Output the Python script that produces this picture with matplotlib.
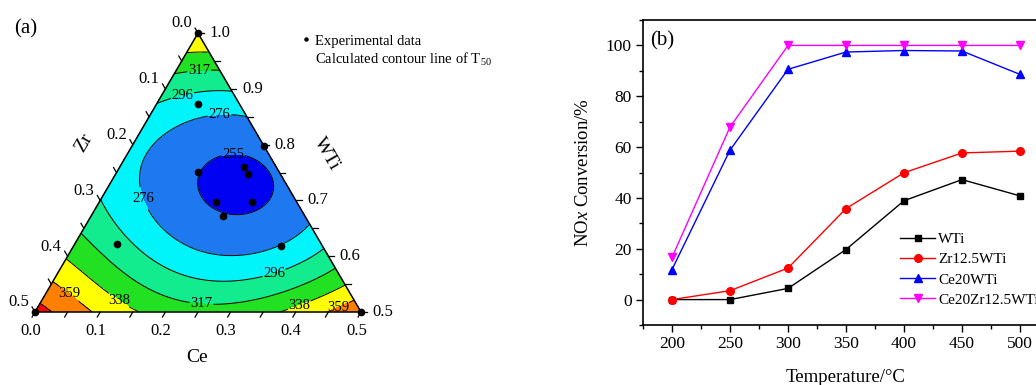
import numpy as np
import matplotlib.pyplot as plt
import matplotlib.tri as mtri
from matplotlib.lines import Line2D

plt.rcParams['font.family'] = ['Liberation Serif', 'DejaVu Serif']
plt.rcParams['mathtext.fontset'] = 'custom'
plt.rcParams['mathtext.rm'] = 'Liberation Serif'
plt.rcParams['mathtext.it'] = 'Liberation Serif:italic'

# --------------------------------------------------
# (a) T50 contour lines, as (Ce, Zr) fractions
# --------------------------------------------------

ce_255 = [0.140, 0.161, 0.197, 0.230, 0.247, 0.252, 0.246, 0.203, 0.169, 0.143, 0.136]
zr_255 = [0.085, 0.055, 0.024, 0.016, 0.028, 0.048, 0.077, 0.126, 0.139, 0.133, 0.116]

ce_276 = [0.030, 0.047, 0.084, 0.106, 0.141, 0.034, 0.050, 0.076, 0.110, 0.176, 0.232, 0.318, 0.345]
zr_276 = [0.138, 0.115, 0.060, 0.040, 0.000, 0.188, 0.219, 0.235, 0.241, 0.201, 0.166, 0.068, 0.000]

ce_296 = [0.000, 0.033, 0.046, 0.097, 0.000, 0.056, 0.113, 0.167, 0.255, 0.324, 0.373, 0.392]
zr_296 = [0.129, 0.080, 0.053, 0.000, 0.300, 0.297, 0.282, 0.254, 0.188, 0.104, 0.040, 0.000]

ce_317 = [0.000, 0.039, 0.083, 0.000, 0.036, 0.071, 0.135, 0.204, 0.248, 0.286, 0.360, 0.381, 0.408, 0.425]
zr_317 = [0.079, 0.035, 0.000, 0.359, 0.347, 0.342, 0.313, 0.269, 0.237, 0.198, 0.109, 0.068, 0.034, 0.000]

ce_338 = [0.000, 0.024, 0.047, 0.000, 0.058, 0.108, 0.156, 0.381, 0.396, 0.443]
zr_338 = [0.043, 0.021, 0.000, 0.405, 0.379, 0.358, 0.344, 0.119, 0.083, 0.000]

ce_359 = [0.000, 0.036, 0.083, 0.447, 0.473]
zr_359 = [0.448, 0.434, 0.417, 0.053, 0.000]

ce_380 = [0.000, 0.023]
zr_380 = [0.488, 0.477]

# spot values: minimum, apex, corners, edge middles
spot_ce = [0.194, 0.000, 0.000, 0.500, 0.250, 0.230, 0.000]
spot_zr = [0.079, 0.000, 0.500, 0.000, 0.250, 0.000, 0.215]
spot_t = [250, 350, 392, 372, 322, 263, 287]

# experimental compositions
exp_ce = [0.000, 0.000, 0.500, 0.064, 0.202, 0.125, 0.191, 0.202, 0.178, 0.234, 0.202, 0.064, 0.318]
exp_zr = [0.000, 0.500, 0.000, 0.063, 0.000, 0.124, 0.049, 0.050, 0.124, 0.069, 0.126, 0.314, 0.064]

# contour label spots
lab_ce = [0.039, 0.033, 0.106, 0.163, 0.064, 0.323, 0.248, 0.118, 0.036, 0.396, 0.449]
lab_zr = [0.035, 0.080, 0.040, 0.056, 0.233, 0.096, 0.237, 0.364, 0.434, 0.088, 0.029]

tick_vals = [0.0, 0.1, 0.2, 0.3, 0.4, 0.5]
line_levels = [255, 276, 296, 317, 338, 359, 380]
fill_levels = [200, 255, 276, 296, 317, 338, 359, 380, 460]
fill_colors = ['#0000F2', '#1E78F0', '#00F5FA', '#12EC8E', '#22E022',
               '#FFFF00', '#FF8000', '#FF0000']

# --------------------------------------------------
# (b) NOx conversion
# --------------------------------------------------

temps = [200, 250, 300, 350, 400, 450, 500]
wti = [0, 0, 4.4, 19.7, 38.9, 47.2, 40.8]
zr_wti = [0, 3.5, 12.4, 35.8, 49.9, 57.7, 58.4]
ce_wti = [11.8, 58.8, 90.6, 97.4, 98.0, 97.8, 88.6]
cezr_wti = [16.6, 67.9, 100, 100, 100, 100, 100]

# --------------------------------------------------

S3 = np.sqrt(3) / 2


def to_xy(ce, zr):
    ce = np.asarray(ce, float)
    zr = np.asarray(zr, float)
    return ce - zr + 0.5, S3 * (1 - 2 * ce - 2 * zr)


def basis(x, y, deg=4):
    return np.column_stack([x**i * y**j for i in range(deg + 1) for j in range(deg + 1 - i)])


all_ce = np.concatenate([ce_255, ce_276, ce_296, ce_317, ce_338, ce_359, ce_380, spot_ce])
all_zr = np.concatenate([zr_255, zr_276, zr_296, zr_317, zr_338, zr_359, zr_380, spot_zr])
all_t = np.concatenate([np.full(len(ce_255), 255), np.full(len(ce_276), 276),
                        np.full(len(ce_296), 296), np.full(len(ce_317), 317),
                        np.full(len(ce_338), 338), np.full(len(ce_359), 359),
                        np.full(len(ce_380), 380), spot_t])
# inner rings count more in the fit
wts = np.concatenate([np.full(len(ce_255), 4.0), np.full(len(ce_276), 2.0),
                      np.ones(len(all_t) - len(ce_255) - len(ce_276))])
fx, fy = to_xy(all_ce, all_zr)
coef = np.linalg.lstsq(basis(fx, fy) * wts[:, None], all_t * wts, rcond=None)[0]

n = 180
gi, gj = np.meshgrid(np.arange(n + 1), np.arange(n + 1))
keep = gi + gj <= n
gx, gy = to_xy(0.5 * gi[keep] / n, 0.5 * gj[keep] / n)
gt = np.clip(basis(gx, gy) @ coef, 201, 459)
tri = mtri.Triangulation(gx, gy)

fig = plt.figure(figsize=(10.36, 3.85), dpi=100)

ax = fig.add_axes([0, 0, 520 / 1036, 1])
ax.set_xlim(-35 / 326, 485 / 326)
ax.set_ylim(-73 / 322, 312 / 322)
ax.axis('off')

ax.tricontourf(tri, gt, levels=fill_levels, colors=fill_colors, antialiased=False)
cs = ax.tricontour(tri, gt, levels=line_levels, colors='k', linewidths=0.7)
lx, ly = to_xy(lab_ce, lab_zr)
labels = ax.clabel(cs, manual=list(zip(lx, ly)), inline=True, fmt='%d', fontsize=10.5,
                   inline_spacing=1)
for t in labels:
    t.set_rotation(0)

ax.plot([0, 1, 0.5, 0], [0, 0, S3, 0], color='k', lw=1.1, zorder=4)

tl = 0.018
for k in range(11):
    v = 0.05 * k
    # Ce, bottom edge
    x, y = to_xy(v, 0.5 - v)
    ax.plot([x, x - 0.5 * tl], [y, y - S3 * tl], color='k', lw=0.9)
    # Zr, left edge
    x, y = to_xy(0, v)
    ax.plot([x, x - 0.5 * tl], [y, y + S3 * tl], color='k', lw=0.9)
    # WTi, right edge
    x, y = to_xy(v, 0)
    ax.plot([x, x + tl], [y, y], color='k', lw=0.9)

for v in tick_vals:
    x, y = to_xy(v, 0.5 - v)
    ax.text(x - 0.014, y - 0.06, f'{v:.1f}', ha='center', va='center', fontsize=12)
    x, y = to_xy(0, v)
    ax.text(x - 0.018, y + 0.03, f'{v:.1f}', ha='right', va='center', fontsize=12)
    x, y = to_xy(0.5 - v, 0)
    ax.text(x + 0.035, y, f'{1 - (0.5 - v):.1f}', ha='left', va='center', fontsize=12)

ax.text(0.15, 0.525, 'Zr', rotation=60, ha='center', va='center', fontsize=14)
ax.text(0.895, 0.49, 'WTi', rotation=-60, ha='center', va='center', fontsize=14)
ax.text(0.497, -0.14, 'Ce', ha='center', va='center', fontsize=14)
ax.text(-0.03, 0.88, '(a)', ha='center', va='center', fontsize=15)

ex, ey = to_xy(exp_ce, exp_zr)
ax.plot(ex, ey, 'o', color='k', ms=4.5, ls='none', clip_on=False, zorder=6)

handles = [Line2D([], [], marker='o', ms=2.2, color='k', ls='none'),
           Line2D([], [], ls='none')]
fig.legend(handles, ['Experimental data', 'Calculated contour line of T$_{50}$'],
           loc='upper left', bbox_to_anchor=(292 / 1036, 1 - 27 / 385),
           frameon=False, fontsize=10.5, handlelength=0.9, handletextpad=0.2,
           borderpad=0, labelspacing=0.2)

# --------------------------------------------------
# (b)
# --------------------------------------------------

axb = fig.add_axes([643 / 1036, 60 / 385, 406 / 1036, 305 / 385])
axb.plot(temps, wti, '-s', color='k', ms=5, lw=1.0, label='WTi')
axb.plot(temps, zr_wti, '-o', color='#FF0000', ms=5.5, lw=1.0, label='Zr12.5WTi')
axb.plot(temps, ce_wti, '-^', color='#0000FF', ms=6, lw=1.0, label='Ce20WTi')
axb.plot(temps, cezr_wti, '-v', color='#FF00FF', ms=6, lw=1.0, label='Ce20Zr12.5WTi')

axb.set_xlim(175, 525)
axb.set_ylim(-10, 110)
axb.set_xticks([200, 250, 300, 350, 400, 450, 500])
axb.set_xticks(np.arange(175, 526, 25), minor=True)
axb.set_yticks([0, 20, 40, 60, 80, 100])
axb.set_yticks(np.arange(-10, 111, 10), minor=True)
axb.tick_params(which='major', direction='out', length=5, width=1.0, labelsize=12.5, pad=3)
axb.tick_params(which='minor', direction='out', length=3, width=1.0)
for s in axb.spines.values():
    s.set_linewidth(1.2)

axb.set_xlabel('Temperature/°C', fontsize=13.5, labelpad=12)
axb.set_ylabel('NO$\\mathit{x}$ Conversion/%', fontsize=13.5, labelpad=10)
axb.text(0.048, 0.932, '(b)', transform=axb.transAxes, fontsize=15, ha='center', va='center')
axb.legend(loc='upper left', bbox_to_anchor=(0.633, 0.303), frameon=False, fontsize=11,
           handlelength=2.3, handletextpad=0.2, borderpad=0, borderaxespad=0,
           labelspacing=0.42)

fig.savefig('out.png', dpi=100)
